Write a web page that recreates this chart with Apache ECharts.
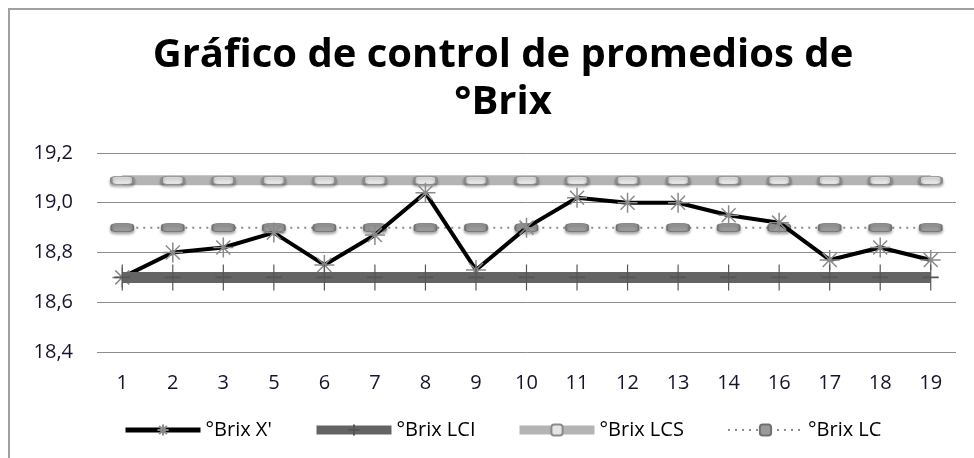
<!DOCTYPE html>
<html>
<head>
    <meta charset="UTF-8">
    <title>Gráfico de control</title>
    <script src="https://cdn.jsdelivr.net/npm/echarts@6/dist/echarts.min.js"></script>
    <style>
        body { margin: 0; background: #fff; }
    </style>
</head>
<body>
<div id="main" style="width: 974px;height:458px;"></div>
<script type="text/javascript">
    // datos
    var muestras = ['1', '2', '3', '5', '6', '7', '8', '9', '10', '11', '12', '13', '14', '16', '17', '18', '19'];
    var brixX = [18.70, 18.80, 18.82, 18.88, 18.75, 18.87, 19.04, 18.73, 18.90, 19.02, 19.00, 19.00, 18.95, 18.92, 18.77, 18.82, 18.77];
    var brixLCI = [18.70, 18.70, 18.70, 18.70, 18.70, 18.70, 18.70, 18.70, 18.70, 18.70, 18.70, 18.70, 18.70, 18.70, 18.70, 18.70, 18.70];
    var brixLCS = [19.09, 19.09, 19.09, 19.09, 19.09, 19.09, 19.09, 19.09, 19.09, 19.09, 19.09, 19.09, 19.09, 19.09, 19.09, 19.09, 19.09];
    var brixLC = [18.90, 18.90, 18.90, 18.90, 18.90, 18.90, 18.90, 18.90, 18.90, 18.90, 18.90, 18.90, 18.90, 18.90, 18.90, 18.90, 18.90];

    var fuente = '"Open Sans", "Noto Sans", sans-serif';
    var estrella = 'path://M5 0 L5 10 M0 5 L10 5 M1.5 1.5 L8.5 8.5 M8.5 1.5 L1.5 8.5';
    var cruz = 'path://M5 0 L5 10 M0 5 L10 5';

    // una leyenda por serie para fijar su posicion
    function leyenda(nombre, x, ancho) {
        return {
            bottom: 13,
            left: x,
            itemWidth: 75,
            itemHeight: 14,
            textStyle: { fontFamily: fuente, fontSize: 20, color: '#000' },
            data: [{ name: nombre, lineStyle: { width: ancho } }]
        };
    }

    var myChart = echarts.init(document.getElementById('main'));

    var option = {
        backgroundColor: '#ffffff',
        animation: false,
        title: {
            text: 'Gráfico de control de promedios de\n°Brix',
            left: 498,
            textAlign: 'center',
            top: 27,
            textStyle: {
                fontFamily: fuente,
                fontSize: 40,
                fontWeight: 'bold',
                color: '#000',
                lineHeight: 47
            }
        },
        graphic: [{
            type: 'rect',
            shape: { x: 9, y: 9, width: 980, height: 470 },
            style: { fill: 'none', stroke: '#a0a0a0', lineWidth: 2 },
            silent: true
        }],
        legend: [
            leyenda("°Brix X'", 118, 5),
            leyenda('°Brix LCI', 307, 9),
            leyenda('°Brix LCS', 510, 9),
            leyenda('°Brix LC', 722, 2)
        ],
        grid: {
            left: 97,
            right: 18,
            top: 153,
            bottom: 106
        },
        xAxis: {
            type: 'category',
            data: muestras,
            axisLine: { show: false },
            axisTick: { show: false },
            axisLabel: {
                margin: 21,
                fontFamily: fuente,
                fontSize: 20,
                color: '#14142e'
            }
        },
        yAxis: {
            type: 'value',
            min: 18.4,
            max: 19.2,
            interval: 0.2,
            axisLine: { show: false },
            axisTick: { show: false },
            axisLabel: {
                margin: 24,
                fontFamily: fuente,
                fontSize: 20,
                color: '#14142e',
                formatter: function (v) {
                    return v.toFixed(1).replace('.', ',');
                }
            },
            splitLine: { lineStyle: { color: '#8c8c8c', width: 1 } }
        },
        series: [
            {
                name: '°Brix LCS',
                type: 'line',
                data: brixLCS,
                z: 2,
                symbol: 'roundRect',
                symbolSize: [22, 8],
                lineStyle: { color: '#b4b4b4', width: 10 },
                itemStyle: {
                    color: '#e4e4e4', borderColor: '#8a8a8a', borderWidth: 1.5,
                    shadowColor: 'rgba(0,0,0,0.35)', shadowBlur: 3, shadowOffsetY: 2
                }
            },
            {
                name: '°Brix LC',
                type: 'line',
                data: brixLC,
                z: 3,
                symbol: 'roundRect',
                symbolSize: [22, 8],
                lineStyle: { color: '#8c8c8c', width: 2, type: [2, 5] },
                itemStyle: {
                    color: '#9a9a9a', borderColor: '#707070', borderWidth: 1,
                    shadowColor: 'rgba(0,0,0,0.35)', shadowBlur: 3, shadowOffsetY: 2
                }
            },
            {
                name: "°Brix X'",
                type: 'line',
                data: brixX,
                z: 4,
                symbol: estrella,
                symbolSize: 20,
                lineStyle: { color: '#000000', width: 4 },
                itemStyle: { color: 'none', borderColor: '#8a8a8a', borderWidth: 1.5 }
            },
            {
                name: '°Brix LCI',
                type: 'line',
                data: brixLCI,
                z: 5,
                symbol: cruz,
                symbolSize: [16, 26],
                lineStyle: { color: '#646464', width: 11 },
                itemStyle: { color: 'none', borderColor: '#555555', borderWidth: 1.5 }
            }
        ]
    };

    myChart.setOption(option);
</script>
</body>
</html>
